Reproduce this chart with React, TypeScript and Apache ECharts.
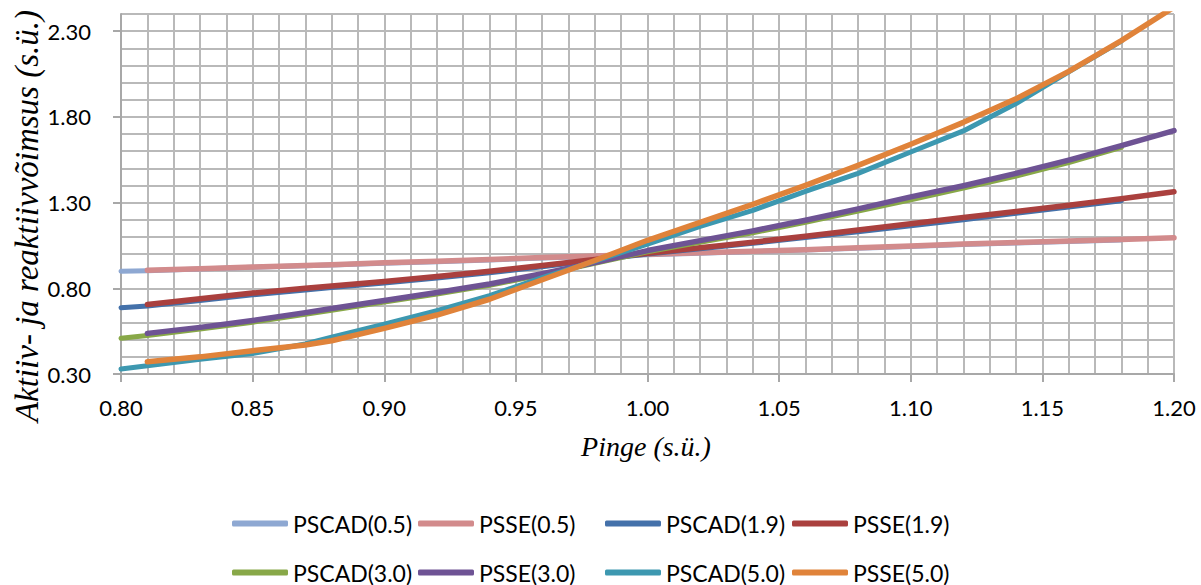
import React, { useEffect, useRef } from "react";
import * as echarts from "echarts";

const voltage = [0.80, 0.81, 0.83, 0.85, 0.87, 0.88, 0.90, 0.92, 0.94, 0.96, 0.98, 1.00, 1.02, 1.04, 1.06, 1.08, 1.10, 1.12, 1.14, 1.16, 1.18, 1.20];

const pscad05 = [0.900, 0.903, 0.912, 0.922, 0.931, 0.936, 0.946, 0.955, 0.965, 0.976, 0.986, 0.996, 1.005, 1.014, 1.023, 1.033, 1.044, 1.055, 1.064, 1.073, 1.082, null];
const psse05 = [null, 0.905, 0.914, 0.924, 0.933, 0.938, 0.949, 0.958, 0.968, 0.979, 0.989, 0.998, 1.007, 1.016, 1.025, 1.036, 1.047, 1.058, 1.067, 1.076, 1.085, 1.095];
const pscad19 = [0.687, 0.697, 0.729, 0.762, 0.790, 0.804, 0.831, 0.860, 0.890, 0.926, 0.963, 1.000, 1.030, 1.062, 1.096, 1.130, 1.165, 1.200, 1.237, 1.274, 1.310, null];
const psse19 = [null, 0.706, 0.739, 0.772, 0.800, 0.813, 0.840, 0.869, 0.899, 0.933, 0.968, 1.004, 1.036, 1.069, 1.104, 1.140, 1.177, 1.213, 1.248, 1.284, 1.322, 1.363];
const pscad30 = [0.508, 0.525, 0.562, 0.602, 0.648, 0.672, 0.720, 0.767, 0.818, 0.878, 0.945, 1.013, 1.068, 1.124, 1.185, 1.250, 1.316, 1.385, 1.455, 1.533, 1.622, null];
const psse30 = [null, 0.537, 0.572, 0.612, 0.658, 0.682, 0.729, 0.775, 0.825, 0.885, 0.950, 1.020, 1.078, 1.135, 1.197, 1.263, 1.333, 1.398, 1.470, 1.548, 1.632, 1.720];
const pscad50 = [0.329, 0.348, 0.386, 0.420, 0.475, 0.515, 0.590, 0.670, 0.757, 0.862, 0.958, 1.058, 1.161, 1.255, 1.365, 1.470, 1.595, 1.718, 1.878, 2.062, 2.242, null];
const psse50 = [null, 0.372, 0.400, 0.436, 0.469, 0.494, 0.566, 0.644, 0.736, 0.850, 0.962, 1.080, 1.185, 1.290, 1.400, 1.517, 1.640, 1.768, 1.905, 2.065, 2.245, 2.440];

const seriesNames = ["PSCAD(0.5)", "PSSE(0.5)", "PSCAD(1.9)", "PSSE(1.9)", "PSCAD(3.0)", "PSSE(3.0)", "PSCAD(5.0)", "PSSE(5.0)"];
const seriesValues = [pscad05, psse05, pscad19, psse19, pscad30, psse30, pscad50, psse50];
const seriesColors = ["#8EA8D2", "#D28B8C", "#4471AA", "#AA403E", "#88A848", "#6E5394", "#3D98B0", "#E0833A"];

const yTickLabels = [0.30, 0.80, 1.30, 1.80, 2.30];
const xTitle = "Pinge (s.ü.)";
const yTitle = "Aktiiv- ja reaktiivvõimsus (s.ü.)";

const legendCols = [232, 418, 605, 792];
const legendRows = [512, 561];

export default function App() {
  const ref = useRef<HTMLDivElement>(null);
  useEffect(() => {
    if (!ref.current) return;
    const chart = echarts.init(ref.current, null, { renderer: "svg" });
    const gridColor = "#B9B9B9";
    const axisColor = "#A8A8A8";
    const font = "Lato";
    const series = seriesNames.map((name, i) => ({
      name,
      type: "line",
      yAxisIndex: 0,
      data: voltage
        .map((v, j) => (seriesValues[i][j] == null ? null : [v, seriesValues[i][j]]))
        .filter((d) => d !== null),
      symbol: "none",
      smooth: false,
      clip: true,
      lineStyle: { color: seriesColors[i], width: i % 2 === 0 ? 5 : 5.5, cap: "round", join: "round" },
      itemStyle: { color: seriesColors[i] },
      emphasis: { disabled: true },
    }));
    const legends = seriesNames.map((name, i) => ({
      data: [name],
      left: legendCols[i % 4],
      top: legendRows[Math.floor(i / 4)],
      icon: "roundRect",
      itemWidth: 56,
      itemHeight: 6,
      padding: 0,
      itemGap: 0,
      selectedMode: false,
      textStyle: { fontFamily: font, fontSize: 23, color: "#000" },
    }));
    chart.setOption({
      animation: false,
      backgroundColor: "#fff",
      grid: { left: 121, top: 14, width: 1053, height: 360 },
      legend: legends,
      xAxis: {
        type: "value",
        min: 0.8,
        max: 1.2,
        interval: 0.05,
        axisLine: { show: true, lineStyle: { color: axisColor, width: 2 } },
        axisTick: { show: true, length: 8, lineStyle: { color: axisColor, width: 2 } },
        axisLabel: {
          margin: 22,
          fontFamily: font,
          fontSize: 22,
          color: "#000",
          formatter: (v: number) => v.toFixed(2),
        },
        splitLine: { show: true, lineStyle: { color: gridColor, width: 2 } },
        minorTick: { show: false, splitNumber: 5 },
        minorSplitLine: { show: true, lineStyle: { color: gridColor, width: 2 } },
      },
      yAxis: [
        {
          type: "value",
          min: 0.3,
          max: 2.4,
          interval: 0.1,
          axisLine: { show: true, lineStyle: { color: axisColor, width: 2 } },
          axisTick: { show: false },
          axisLabel: { show: false },
          splitLine: { show: true, lineStyle: { color: gridColor, width: 2 } },
        },
        {
          type: "value",
          position: "left",
          offset: 0,
          min: 0.3,
          max: 2.4,
          interval: 0.1,
          axisLine: { show: false },
          axisTick: {
            show: true,
            length: 8,
            customValues: yTickLabels,
            lineStyle: { color: axisColor, width: 2 },
          },
          axisLabel: {
            margin: 30,
            fontFamily: font,
            fontSize: 22,
            color: "#000",
            customValues: yTickLabels,
            formatter: (v: number) => v.toFixed(2),
          },
          splitLine: { show: false },
        },
      ],
      graphic: [
        {
          type: "text",
          x: 646,
          y: 446,
          style: {
            text: xTitle,
            font: "italic 28px 'Liberation Serif'",
            fill: "#000",
            align: "center",
            verticalAlign: "middle",
          },
        },
        {
          type: "text",
          x: 27,
          y: 216,
          rotation: Math.PI / 2,
          style: {
            text: yTitle,
            font: "italic 33px 'Liberation Serif'",
            fill: "#000",
            align: "center",
            verticalAlign: "middle",
          },
        },
      ],
      series,
    });
    return () => chart.dispose();
  }, []);
  return (
    <div
      ref={ref}
      style={{ position: "fixed", left: 0, top: 0, width: 1201, height: 585, background: "#fff" }}
    />
  );
}
